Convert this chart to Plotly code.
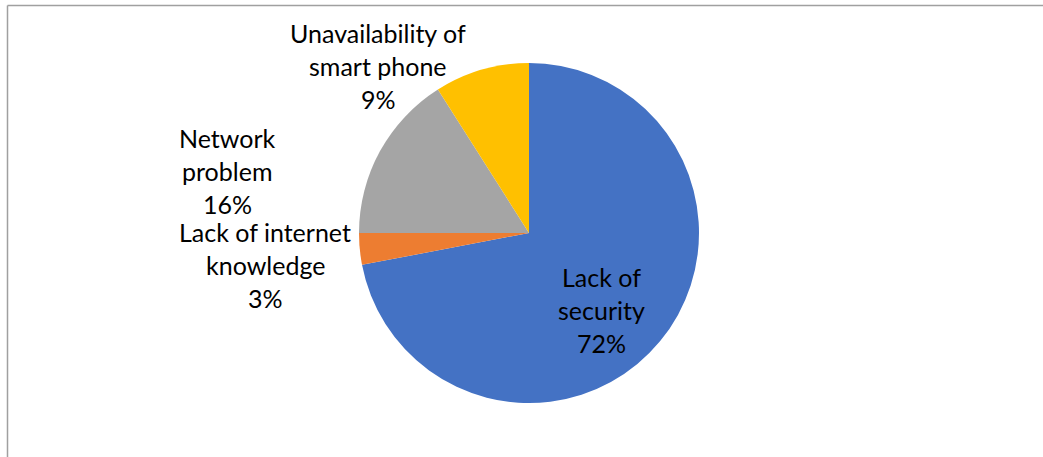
import plotly.graph_objects as go

categories = ["Lack of security", "Lack of internet knowledge", "Network problem", "Unavailability of smart phone"]
values = [72, 3, 16, 9]
colors = ["#4472C4", "#ED7D31", "#A5A5A5", "#FFC000"]
label_lines = [
    ["Lack of", "security", "72%"],
    ["Lack of internet", "knowledge", "3%"],
    ["Network", "problem", "16%"],
    ["Unavailability of", "smart phone", "9%"],
]

W, H = 1043, 457
cx, cy, r = 529, 233, 170

fig = go.Figure(go.Pie(
    labels=categories, values=values, sort=False, direction="clockwise", rotation=0,
    marker=dict(colors=colors, line=dict(width=0)),
    textinfo="none", hoverinfo="label+percent", showlegend=False,
    domain=dict(x=[(cx - r) / W, (cx + r) / W], y=[1 - (cy + r) / H, 1 - (cy - r) / H]),
))

# label centers (pixels)
label_pos = [(601, 310), (265, 265), (227, 171), (378, 66)]
for lines, (px, py) in zip(label_lines, label_pos):
    for i, t in enumerate(lines):
        fig.add_annotation(
            x=px / W, y=1 - (py + (i - 1) * 33) / H, xref="paper", yref="paper",
            text=t, showarrow=False, xanchor="center", yanchor="middle",
            font=dict(family="Lato", size=25, color="#000000"),
        )

# chart frame (partially visible)
fig.add_shape(type="line", xref="paper", yref="paper", x0=7.5 / W, x1=1.0, y0=1 - 5.5 / H, y1=1 - 5.5 / H,
              line=dict(color="#A0A0A0", width=1.5))
fig.add_shape(type="line", xref="paper", yref="paper", x0=7.5 / W, x1=7.5 / W, y0=0, y1=1 - 5.5 / H,
              line=dict(color="#A0A0A0", width=1.5))

fig.update_layout(width=W, height=H, margin=dict(l=0, r=0, t=0, b=0),
                  paper_bgcolor="white", plot_bgcolor="white")
fig.write_html("out.html")
